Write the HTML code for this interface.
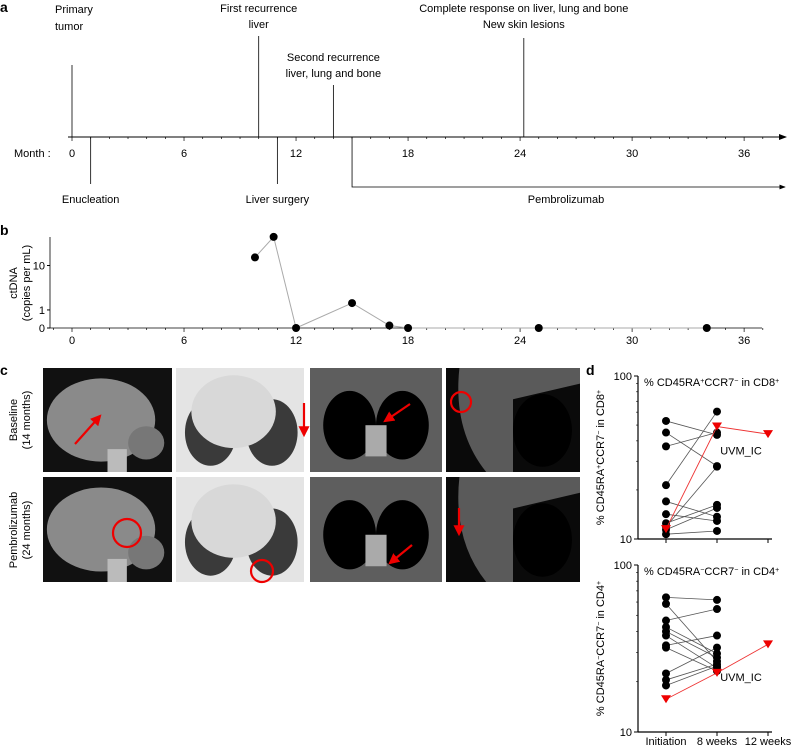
<!DOCTYPE html>
<html><head><meta charset="utf-8"><style>
html,body{margin:0;padding:0;background:#fff;}
svg{display:block;font-family:"Liberation Sans",Arial,sans-serif;}
</style></head><body>
<svg id="fig" width="793" height="746" viewBox="0 0 793 746" xmlns="http://www.w3.org/2000/svg">
<defs><marker id="ar" markerWidth="8" markerHeight="8" refX="7" refY="4" orient="auto"><path d="M0,1 L8,4 L0,7 z" fill="#000"/></marker>
<marker id="ra" markerWidth="5" markerHeight="5" refX="4" refY="2.5" orient="auto"><path d="M0,0 L5,2.5 L0,5 z" fill="#e00"/></marker></defs>
<g id="pa"></g>
<g id="pb"></g>
<g id="pc"></g>
<g id="pd"></g>
</svg>
<script>
const monthTicks=[0,6,12,18,24,30,36];
const ctMonths=[9.8,10.8,12,15,17,18,25,34];
const ctValues=[14,32,0,1.6,0.1,0,0,0];
const cd8Init=[53,45,37,21.4,17,14.2,12.5,11.9,11.4,10.7];
const cd8Week8=[43.5,28,45,60.5,13.7,12.9,16.2,27.8,15.5,11.2];
const cd8Red=[11.5,49,44];
const cd4Init=[64,58.5,46.5,42.5,40,37.8,33,32,22.4,20.5,19];
const cd4Week8=[61.8,26.5,54.5,29.5,27.9,24.2,37.8,23.2,32,25.5,24.8];
const cd4Red=[15.7,22.6,33.5];
const dCats=["Initiation","8 weeks","12 weeks"];

const NS="http://www.w3.org/2000/svg";
function el(p,t,a,txt){const e=document.createElementNS(NS,t);for(const k in a)e.setAttribute(k,a[k]);if(txt!==undefined)e.textContent=txt;p.appendChild(e);return e;}
const mx=m=>72+m*18.67;

// ---- panel a
const A=document.getElementById('pa');
let t=el(A,'text',{x:0,y:12,'font-weight':'bold','font-size':14},'a');

let ax=el(A,'line',{x1:68,y1:137,x2:786,y2:137,stroke:'#000','stroke-width':1,'marker-end':'url(#ar)'});

for(let m=0;m<=38;m++){let tk=el(A,'line',{x1:mx(m),y1:137,x2:mx(m),y2:m%6==0?141:139,stroke:'#000','stroke-width':0.7});
}
monthTicks.forEach(m=>{let l=el(A,'text',{x:mx(m),y:157,'font-size':11,'text-anchor':'middle'},String(m));
});
t=el(A,'text',{x:14,y:157,'font-size':11},'Month :');
const events=[{m:0,y0:65,lines:['Primary','tumor'],ty:[13,30],anchor:'start',tx:55},
{m:10,y0:36,lines:['First recurrence','liver'],ty:[12,28],anchor:'middle'},
{m:14,y0:85,lines:['Second recurrence','liver, lung and bone'],ty:[61,77],anchor:'middle'},
{m:24.2,y0:38,lines:['Complete response on liver, lung and bone','New skin lesions'],ty:[12,28],anchor:'middle'}];
events.forEach(e=>{let l=el(A,'line',{x1:mx(e.m),y1:e.y0,x2:mx(e.m),y2:137,stroke:'#000','stroke-width':0.8});

e.lines.forEach((s,i)=>{let tt=el(A,'text',{x:e.tx||mx(e.m),y:e.ty[i],'font-size':11,'text-anchor':e.anchor},s);
});});
[{m:1,s:'Enucleation'},{m:11,s:'Liver surgery'}].forEach(e=>{let l=el(A,'line',{x1:mx(e.m),y1:137,x2:mx(e.m),y2:184,stroke:'#000','stroke-width':0.8});

let tt=el(A,'text',{x:mx(e.m),y:203,'font-size':11,'text-anchor':'middle'},e.s);
});
let pl=el(A,'polyline',{points:`${mx(15)},137 ${mx(15)},187 785,187`,fill:'none',stroke:'#000','stroke-width':0.8,'marker-end':'url(#ar)'});

t=el(A,'text',{x:566,y:203,'font-size':11,'text-anchor':'middle'},'Pembrolizumab');


// ---- panel b
const B=document.getElementById('pb');
const by=v=>328-60*Math.log10(1+v);
t=el(B,'text',{x:0,y:235,'font-weight':'bold','font-size':14},'b');
let yl=el(B,'line',{x1:50,y1:237,x2:50,y2:328,stroke:'#000','stroke-width':0.8});
let xl=el(B,'line',{x1:50,y1:328,x2:762,y2:328,stroke:'#000','stroke-width':0.8});
[0,1,10].forEach(v=>{let l=el(B,'line',{x1:47,y1:by(v),x2:50,y2:by(v),stroke:'#000'});
let tt=el(B,'text',{x:45,y:by(v)+4,'font-size':11,'text-anchor':'end'},String(v));});
for(let m=-1;m<=37;m++){if(mx(m)<50)continue;let tk=el(B,'line',{x1:mx(m),y1:328,x2:mx(m),y2:m%6==0?332:330,stroke:'#000','stroke-width':0.7});
}
monthTicks.forEach(m=>{let l=el(B,'text',{x:mx(m),y:344,'font-size':11,'text-anchor':'middle'},String(m));});
t=el(B,'text',{x:0,y:0,'font-size':11,'text-anchor':'middle',transform:'translate(17,283) rotate(-90)'},'ctDNA');
t=el(B,'text',{x:0,y:0,'font-size':11,'text-anchor':'middle',transform:'translate(30,283) rotate(-90)'},'(copies per mL)');
let ln=el(B,'polyline',{points:ctMonths.map((m,i)=>mx(m)+','+by(ctValues[i])).join(' '),fill:'none',stroke:'#aaa','stroke-width':1});

ctMonths.forEach((m,i)=>{let c=el(B,'circle',{cx:mx(m),cy:by(ctValues[i]),r:4,fill:'#000'});});

// ---- panel c
const C=document.getElementById('pc');
t=el(C,'text',{x:0,y:375,'font-weight':'bold','font-size':14},'c');
t=el(C,'text',{x:0,y:0,'font-size':11,'text-anchor':'middle',transform:'translate(17,420) rotate(-90)'},'Baseline');
t=el(C,'text',{x:0,y:0,'font-size':11,'text-anchor':'middle',transform:'translate(30,420) rotate(-90)'},'(14 months)');
t=el(C,'text',{x:0,y:0,'font-size':11,'text-anchor':'middle',transform:'translate(17,530) rotate(-90)'},'Pembrolizumab');
t=el(C,'text',{x:0,y:0,'font-size':11,'text-anchor':'middle',transform:'translate(30,530) rotate(-90)'},'(24 months)');
const cols=[[43,172],[176,304],[310,442],[446,580]],rows=[[368,472],[477,582]];
rows.forEach((r,ri)=>cols.forEach((c,ci)=>{const x=c[0],y=r[0],w=c[1]-c[0],h=r[1]-r[0];
const g=el(C,'g',{});
if(ci==0){el(g,'rect',{x,y,width:w,height:h,fill:'#111'});el(g,'ellipse',{cx:x+w*0.45,cy:y+h*0.5,rx:w*0.42,ry:h*0.4,fill:'#8a8a8a'});el(g,'ellipse',{cx:x+w*0.8,cy:y+h*0.72,rx:w*0.14,ry:h*0.16,fill:'#777'});el(g,'rect',{x:x+w*0.5,y:y+h*0.78,width:w*0.15,height:h*0.22,fill:'#bbb'});}
if(ci==1){el(g,'rect',{x,y,width:w,height:h,fill:'#e4e4e4'});el(g,'ellipse',{cx:x+w*0.27,cy:y+h*0.62,rx:w*0.2,ry:h*0.32,fill:'#3a3a3a'});el(g,'ellipse',{cx:x+w*0.75,cy:y+h*0.62,rx:w*0.2,ry:h*0.32,fill:'#3a3a3a'});el(g,'ellipse',{cx:x+w*0.45,cy:y+h*0.42,rx:w*0.33,ry:h*0.35,fill:'#d8d8d8'});}
if(ci==2){el(g,'rect',{x,y,width:w,height:h,fill:'#5e5e5e'});el(g,'ellipse',{cx:x+w*0.3,cy:y+h*0.55,rx:w*0.2,ry:h*0.33,fill:'#000'});el(g,'ellipse',{cx:x+w*0.7,cy:y+h*0.55,rx:w*0.2,ry:h*0.33,fill:'#000'});el(g,'rect',{x:x+w*0.42,y:y+h*0.55,width:w*0.16,height:h*0.3,fill:'#aaa'});}
if(ci==3){el(g,'rect',{x,y,width:w,height:h,fill:'#0a0a0a'});el(g,'path',{d:`M${x+w*0.1},${y} Q${x+w*0.05},${y+h*0.6} ${x+w*0.3},${y+h} L${x+w*0.5},${y+h} L${x+w*0.5},${y+h*0.3} L${x+w},${y+h*0.15} L${x+w},${y}z`,fill:'#5a5a5a'});el(g,'ellipse',{cx:x+w*0.72,cy:y+h*0.6,rx:w*0.22,ry:h*0.35,fill:'#000'});}
}));
const arrows=[[75,445,100,418],[295,396,295,433],[400,400,376,418],[110,592-1,0,0]];
const redStuff=[['line',{x1:75,y1:444,x2:100,y2:416}],['line',{x1:304,y1:403,x2:304,y2:435}],['line',{x1:410,y1:404,x2:385,y2:421}],['circle',{cx:461,cy:402,r:10}],
['circle',{cx:127,cy:533,r:14}],['circle',{cx:262,cy:591-20,r:11}],['line',{x1:412,y1:545,x2:390,y2:563}],['line',{x1:459,y1:508,x2:459,y2:534}]];
redStuff.forEach(([tp,a])=>{const o=Object.assign({stroke:'#e00','stroke-width':2.2,fill:'none'},a);if(tp=='line')o['marker-end']='url(#ra)';
let e=el(C,tp,o);});

// ---- panel d
const D=document.getElementById('pd');
t=el(D,'text',{x:586,y:375,'font-weight':'bold','font-size':14},'d');
const dx=i=>666+i*51;
function panel(top,bot,init,w8,red,titleHTML,ytitle){
 const ly=v=>bot-(bot-top)*Math.log10(v/10);
 let g=el(D,'g',{});
 let a=el(g,'line',{x1:638,y1:top,x2:638,y2:bot,stroke:'#000','stroke-width':1.2});
 a=el(g,'line',{x1:638,y1:bot,x2:772,y2:bot,stroke:'#000','stroke-width':1.2});
 [10,100].forEach(v=>{let l=el(g,'line',{x1:634,y1:ly(v),x2:638,y2:ly(v),stroke:'#000'});
  let tt=el(g,'text',{x:632,y:ly(v)+4,'font-size':11,'text-anchor':'end'},String(v));});
 for(let v=20;v<100;v+=10){let l=el(g,'line',{x1:636,y1:ly(v),x2:638,y2:ly(v),stroke:'#000','stroke-width':0.6});}
 dCats.forEach((c,i)=>{let l=el(g,'line',{x1:dx(i),y1:bot,x2:dx(i),y2:bot+4,stroke:'#000'});});
 init.forEach((v,i)=>{let l=el(g,'line',{x1:dx(0),y1:ly(v),x2:dx(1),y2:ly(w8[i]),stroke:'#555','stroke-width':0.8});});
 init.forEach(v=>{let c=el(g,'circle',{cx:dx(0),cy:ly(v),r:4,fill:'#000'});});
 w8.forEach(v=>{let c=el(g,'circle',{cx:dx(1),cy:ly(v),r:4,fill:'#000'});});
 let rl=el(g,'polyline',{points:red.map((v,i)=>dx(i)+','+ly(v)).join(' '),fill:'none',stroke:'#e33','stroke-width':0.9});
 red.forEach((v,i)=>{const x=dx(i),y=ly(v);let p=el(g,'path',{d:`M${x-5},${y-4} L${x+5},${y-4} L${x},${y+4}z`,fill:'#e00'});});
 let lab=el(g,'text',{x:741,y:ly(red[1])+(red[2]>red[1]?8:28),'font-size':11,'text-anchor':'middle'},'UVM_IC');
 let tt=el(g,'text',{x:644,y:top+10,'font-size':11});tt.innerHTML=titleHTML;
 let yt=el(g,'text',{x:0,y:0,'font-size':11,'text-anchor':'middle',transform:`translate(604,${(top+bot)/2}) rotate(-90)`});yt.innerHTML=ytitle;
}
const sup=s=>`<tspan baseline-shift="super" font-size="7">${s}</tspan>`;
panel(376,539,cd8Init,cd8Week8,cd8Red,`% CD45RA${sup('+')}CCR7${sup('−')} in CD8${sup('+')}`,`% CD45RA${sup('+')}CCR7${sup('−')} in CD8${sup('+')}`);
panel(565,732,cd4Init,cd4Week8,cd4Red,`% CD45RA${sup('−')}CCR7${sup('−')} in CD4${sup('+')}`,`% CD45RA${sup('−')}CCR7${sup('−')} in CD4${sup('+')}`);
dCats.forEach((c,i)=>{let l=el(D,'text',{x:dx(i),y:745,'font-size':11,'text-anchor':'middle'},c);});
</script>
</body></html>
